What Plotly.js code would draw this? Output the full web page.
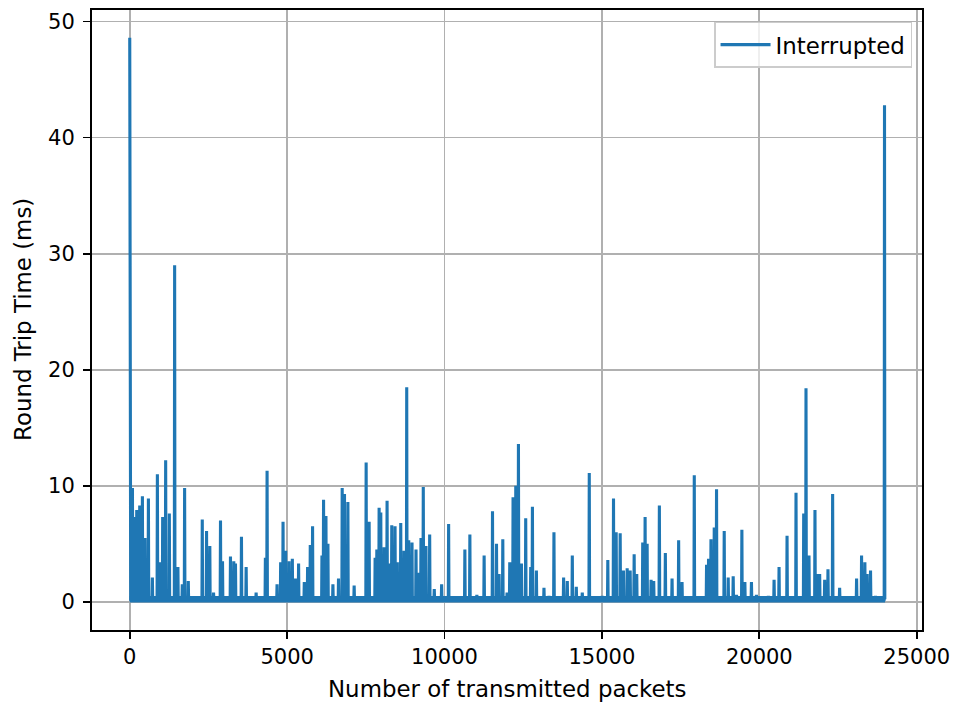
<!DOCTYPE html>
<html>
<head>
<meta charset="utf-8">
<script src="https://cdn.plot.ly/plotly-3.0.1.min.js"></script>
<style>html,body{margin:0;padding:0;background:#fff;}#chart{width:958px;height:704px;}</style>
</head>
<body>
<div id="chart"></div>
<script>
// Packet index of each latency spike
const spikeX = [0, 20, 86, 136, 222, 317, 402, 485, 593, 719, 878, 960, 1046, 1141, 1258, 1426, 1530, 1670, 1743, 1860,
  2304, 2440, 2544, 2662, 2883, 2947, 3200, 3305, 3359, 3549, 3698, 4015, 4309, 4363, 4680, 4794, 4870, 4953, 5060, 5165,
  5260, 5364, 5545, 5650, 5735, 5808, 6106, 6157, 6233, 6296, 6454, 6632, 6749, 6822, 6930, 7129, 7510, 7605, 7795, 7849,
  7922, 7975, 8080, 8175, 8238, 8324, 8428, 8501, 8609, 8714, 8799, 8863, 8967, 9094, 9180, 9252, 9325, 9411, 9528, 9674,
  9908, 10130, 10646, 10805, 11027, 11258, 11524, 11651, 11733, 11851, 11987, 12072, 12177, 12263, 12348, 12443, 12579, 12738, 12792, 12918,
  13159, 13318, 13476, 13783, 13900, 14059, 14186, 14376, 14598, 15010, 15187, 15368, 15453, 15580, 15684, 15802, 15897, 16024, 16106, 16296,
  16372, 16436, 16562, 16645, 16825, 17015, 17228, 17437, 17545, 17934, 18324, 18387, 18464, 18568, 18641, 18885, 19011, 19170, 19275, 19446,
  19541, 19750, 19908, 20288, 20469, 20627, 20881, 21166, 21410, 21483, 21578, 21768, 21873, 21917, 22076, 22181, 22329, 22551, 23090, 23248,
  23353, 23426, 23533, 23691, 23977];
// Round trip time at each spike (ms)
const spikeRTT = [48.6, 38.6, 9.8, 7.3, 7.9, 8.3, 9.1, 5.5, 8.9, 2.1, 11.0, 3.4, 7.3, 12.2, 7.6, 29.0, 3.0, 1.5, 9.8, 1.8,
  7.1, 6.1, 4.8, 0.8, 7.0, 3.5, 3.9, 3.5, 3.3, 5.6, 3.0, 0.8, 3.8, 11.3, 1.5, 3.4, 6.9, 4.4, 3.5, 3.7,
  2.0, 3.3, 1.7, 3.0, 4.9, 6.5, 4.0, 8.8, 7.4, 5.0, 1.5, 2.0, 9.8, 9.3, 8.6, 1.4, 12.0, 6.9, 3.8, 4.5,
  8.1, 7.7, 4.7, 8.7, 3.3, 6.6, 6.5, 3.4, 6.8, 4.4, 18.5, 5.3, 5.1, 4.5, 2.5, 5.5, 9.9, 4.8, 5.8, 1.1,
  1.5, 6.7, 4.5, 5.8, 0.6, 4.0, 7.8, 5.0, 2.4, 5.4, 0.8, 3.4, 9.0, 10.0, 13.6, 3.3, 7.2, 3.0, 8.2, 2.7,
  1.2, 0.5, 6.0, 2.1, 1.8, 4.0, 1.3, 0.8, 11.1, 0.5, 3.6, 8.9, 6.0, 5.9, 2.7, 2.9, 2.7, 4.1, 2.4, 5.1,
  7.3, 5.0, 1.9, 1.8, 8.3, 4.2, 2.0, 5.3, 1.7, 10.9, 3.2, 3.7, 5.4, 6.4, 9.7, 6.1, 2.1, 2.2, 0.6, 6.2,
  1.7, 1.7, 0.6, 0.5, 1.9, 3.0, 5.7, 9.4, 7.6, 18.4, 4.0, 7.9, 2.4, 2.4, 1.9, 2.8, 9.3, 1.2, 2.0, 4.0,
  3.4, 2.4, 2.7, 0.5, 42.8];
const baseRTT = 0.22;     // typical RTT between spikes (ms)
const firstPacket = 0;
const lastPacket = 23995; // last transmitted packet
const seriesName = "Interrupted";
const xTickVals = [0, 5000, 10000, 15000, 20000, 25000];
const yTickVals = [0, 10, 20, 30, 40, 50];
const xTitle = "Number of transmitted packets";
const yTitle = "Round Trip Time (ms)";

const xs = [], ys = [];
for (let i = 0; i < spikeX.length; i++) {
  if (i > 0) { xs.push(spikeX[i] - 10); ys.push(baseRTT); }
  xs.push(spikeX[i]); ys.push(spikeRTT[i]);
  xs.push(spikeX[i] + 10); ys.push(baseRTT);
}
xs.push(lastPacket); ys.push(baseRTT);

const BLUE = "#1f77b4";
const tickFont = {family: "DejaVu Sans, sans-serif", size: 21, color: "#000"};
const labelFont = {family: "DejaVu Sans, sans-serif", size: 22.9, color: "#000"};
const axisCommon = {
  showline: true, mirror: true, linecolor: "#000", linewidth: 1.67,
  showgrid: true, gridcolor: "#b0b0b0", gridwidth: 1.67,
  zeroline: false, ticks: "outside", ticklen: 7.3, tickwidth: 1.67, tickcolor: "#000",
  tickfont: tickFont
};

Plotly.newPlot("chart", [
  { // dense jitter band of the base RTT between spikes
    x: [firstPacket, lastPacket], y: [baseRTT, baseRTT], type: "scatter", mode: "lines",
    showlegend: false, hoverinfo: "skip", line: {color: BLUE, width: 6.5}
  },
  {
    x: xs, y: ys, type: "scatter", mode: "lines", name: seriesName,
    line: {color: BLUE, width: 3.1}
  }
], {
  width: 958, height: 704,
  margin: {l: 92, r: 36, t: 10, b: 74},
  paper_bgcolor: "#fff", plot_bgcolor: "#fff",
  font: tickFont,
  showlegend: true,
  legend: {x: 0.988, y: 0.981, xanchor: "right", yanchor: "top", itemwidth: 50,
    bgcolor: "rgba(255,255,255,0.8)", bordercolor: "#cccccc", borderwidth: 1.5, font: labelFont},
  xaxis: Object.assign({}, axisCommon, {
    range: [-1199, 25168], tickvals: xTickVals, ticktext: xTickVals.map(String)
  }),
  yaxis: Object.assign({}, axisCommon, {
    range: [-2.43, 51.0], tickvals: yTickVals, ticktext: yTickVals.map(String),
    ticklabelstandoff: 4
  }),
  annotations: [
    {text: xTitle, xref: "paper", yref: "paper", x: 0.5, y: (630 - 689) / 620,
     xanchor: "center", yanchor: "middle", showarrow: false, font: labelFont},
    {text: yTitle, xref: "paper", yref: "paper", x: (23 - 92) / 830, y: 0.5,
     xanchor: "center", yanchor: "middle", textangle: -90, showarrow: false, font: labelFont}
  ]
}, {displayModeBar: false, staticPlot: true});
</script>
</body>
</html>
